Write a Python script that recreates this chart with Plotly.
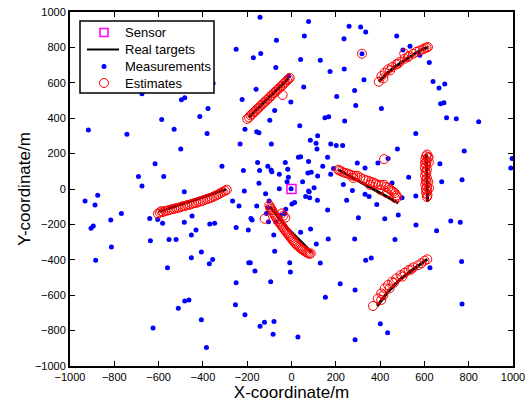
import plotly.graph_objects as go

# ---------------- data ----------------
sensor_x = [0]
sensor_y = [0]

# real target tracks (waypoints), one list per target
track_a_x = [-597, -296]
track_a_y = [-128, -2]
track_b_x = [-193, -13]
track_b_y = [405, 625]
track_c_x = [-97, -16, 90]
track_c_y = [-100, -225, -358]
track_d_x = [211, 482]
track_d_y = [109, -79]
track_e_x = [609, 614]
track_e_y = [196, -72]
track_f_x = [387, 421, 436, 488, 541, 613]
track_f_y = [-661, -608, -580, -514, -462, -397]
track_g_x = [395, 428, 466, 511, 556, 594, 616]
track_g_y = [606, 651, 689, 727, 764, 790, 802]

# measurements (clutter + target detections)
meas_x = [-142, -68, -250, -139, -172, -71, -13, -160, -354, -675, -482, -497, -223, -3, -377, -76, -586, -414,
          -98, -917, -743, -530, -381, -210, -157, -147, -232, -91, -500, -616, -314, -153, -107, -28, -691, -577,
          -217, -144, -92, -89, -55, -17, -14, -675, -147, -20, -55, -213, -484,
          77, 260, 312, 335, 58, 237, 475, 535, 503, 318, 41, 130, 174, 238, 622, 579, 327, 55, 285, 639, 666,
          692, 204, 290, 406, 673, 688, 151, 168, 240, 700, 744, 845, 37, 561, 118, 85, 111, 177, 202, 231, 115,
          478, 31, 41, 163, 780, 996, 77, 297, 390, 436, 670, 141, 332, 74, 89, 190, 177, 990, 118, 529, 770, 678,
          50, 454, 234, 102, 77,
          -875, -932, -887, -768, -816, -905, -895, -884, -813, -640, -604, -582, -637, -553, -521, -560, -484,
          -449, -431, -452, -452, -407, -369, -347, -356, -371, -482, -463, -511, -625, -407, -384, -266, -237,
          -250, -195, -183, -178, -157, -117, -101, -107, -113, -104, -71, -50, -31, -26, 2, -80, -76, -193, -186,
          -165, -94, -8, -5, -250, -253, -210, -142, -122, -79, -83,
          14, 64, 82, 80, 117, 275, 249, 332, 350, 385, 561, 499, 163, 302, 421, 482, 562, 655, 719, 762, 41, 86,
          166, 285, 467, 112, 130, 335, 360, 625, 768, 220, 287, 153, 770, 401, 434, 29, 287, -2]
meas_y = [971, 841, 789, 766, 742, 687, 638, 563, 598, 538, 516, 504, 506, 491, 455, 444, 393, 410,
          389, 333, 310, 337, 314, 337, 324, 318, 254, 254, 226, 143, 128, 150, 128, 150, 71, 71,
          105, 105, 107, 98, 84, 111, 66, 17, 32, 41, 1, -12, -15,
          947, 919, 915, 887, 864, 849, 864, 807, 785, 764, 732, 728, 664, 678, 715, 755, 617, 576, 557, 608, 570,
          593, 523, 472, 455, 482, 487, 403, 408, 384, 403, 397, 380, 357, 314, 301, 276, 258, 254, 246, 246, 226,
          226, 179, 182, 179, 214, 173, 156, 147, 147, 173, 143, 128, 118, 90, 94, 116, 83, 118, 73, 67, 52, 41,
          41, 34, 26, 7, -12,
          -36, -68, -91, -138, -175, -222, -209, -403, -328, -166, -172, -194, -292, -286, -286, -445, -188,
          -153, -232, -260, -388, -356, -198, -194, -398, -422, -633, -627, -674, -785, -738, -896, -68, -96,
          -217, -232, -166, -175, -96, -27, -68, -106, -138, -185, -187, -149, -138, -115, -85, -260, -352, -416, -416,
          -463, -524, -416, -469, -529, -654, -710, -776, -753, -748, -821,
          -76, -43, -49, -15, -64, -8, -64, -30, -43, -87, -40, -49, -119, -162, -168, -147, -204, -236, -181, -188, -245, -226,
          -283, -283, -286, -311, -418, -403, -390, -445, -409, -535, -571, -612, -650, -761, -812, -836, -851, 2]

# filter estimates, one list per target
est_a_x = [-603, -595, -588, -580, -570, -560, -550, -540, -530, -520, -510, -500, -490, -480, -470, -460, -450,
           -440, -430, -420, -410, -400, -390, -380, -370, -360, -350, -340, -330, -320, -310, -300, -292]
est_a_y = [-140, -132, -125, -130, -124, -122, -118, -114, -112, -108, -106, -102, -97, -96, -90, -89, -84,
           -80, -79, -72, -70, -66, -60, -57, -52, -48, -42, -36, -30, -22, -16, -10, -4]
est_b_x = [-200, -192, -185, -178, -170, -163, -155, -148, -140, -132, -125, -118, -110, -102, -95, -88, -80,
           -72, -65, -58, -50, -42, -40, -34, -27, -20, -13, -8]
est_b_y = [396, 404, 416, 422, 434, 440, 452, 458, 470, 478, 488, 494, 505, 512, 524, 530, 542,
           549, 560, 566, 578, 584, 531, 596, 604, 614, 620, 628]
est_c_x = [-100, -96, -92, -88, -84, -79, -74, -69, -64, -59, -54, -49, -44, -39, -34, -29, -24, -19, -14, -9,
           -4, 1, 6, 11, 16, 21, 27, 33, 39, 45, 51, 57, 63, 69, 75, 81, 87, -44, -36, -28, -121]
est_c_y = [-92, -104, -112, -120, -130, -140, -152, -162, -172, -182, -190, -200, -208, -216, -225, -233, -242,
           -250, -258, -266, -274, -282, -290, -297, -305, -312, -319, -326, -333, -339, -344, -349, -354, -359,
           -363, -366, -364, -138, -150, -162, -168]
est_d_x = [211, 216, 225, 234, 245, 256, 268, 279, 279, 288, 297, 310, 324, 335, 347, 354, 358, 369, 380, 392,
           400, 405, 418, 425, 430, 437, 445, 452, 460, 467, 467, 474, 478, 418]
est_d_y = [109, 104, 100, 94, 90, 86, 80, 75, 62, 74, 75, 64, 56, 50, 47, 24, 40, 37, 30, 24,
           -4, 22, 24, 12, -23, 6, -2, -10, -16, -23, -51, -36, -47, 169]
est_e_x = [612, 607, 616, 604, 610, 603, 608, 602, 611, 605, 609, 603, 611, 606, 610, 604, 612, 607, 613, 608,
           614, 611, 619, 620, 618, 621]
est_e_y = [195, 185, 178, 165, 155, 145, 135, 120, 110, 98, 88, 75, 62, 50, 38, 25, 12, 0, -12, -22,
           -35, -45, 180, 150, 40, 5]
est_f_x = [368, 390, 405, 405, 421, 436, 443, 454, 473, 493, 511, 529, 549, 571, 586, 601, 613, 415, 462, 500, 540]
est_f_y = [-661, -618, -590, -627, -561, -542, -561, -524, -505, -486, -473, -458, -443, -431, -420, -405, -397,
           -600, -530, -495, -455]
est_g_x = [394, 406, 421, 436, 454, 473, 488, 511, 526, 549, 564, 579, 594, 609, 616, 509, 318, 415, 445, 480, 530, 600]
est_g_y = [606, 638, 657, 676, 689, 704, 717, 736, 745, 764, 775, 783, 789, 798, 802, 766, 764, 625, 670, 708, 752, 795]

legend_labels = ["Sensor", "Real targets", "Measurements", "Estimates"]

# ---------------- build ----------------
tracks = [(track_a_x, track_a_y), (track_b_x, track_b_y), (track_c_x, track_c_y), (track_d_x, track_d_y),
          (track_e_x, track_e_y), (track_f_x, track_f_y), (track_g_x, track_g_y)]
ests = [(est_a_x, est_a_y), (est_b_x, est_b_y), (est_c_x, est_c_y), (est_d_x, est_d_y),
        (est_e_x, est_e_y), (est_f_x, est_f_y), (est_g_x, est_g_y)]

tx, ty = [], []
for xs, ys in tracks:
    tx += list(xs) + [None]
    ty += list(ys) + [None]
ex, ey = [], []
for xs, ys in ests:
    ex += list(xs)
    ey += list(ys)

FONT = "Liberation Sans, Arial, sans-serif"
MAGENTA, BLUE, RED = "#ff00ff", "#0000ff", "#ff0000"

W, H = 529, 402
ML, MR, MT, MB = 70, 16, 12, 36
PW, PH = W - ML - MR, H - MT - MB


def px(xp):
    return (xp - ML) / PW


def py(yp):
    return (H - MB - yp) / PH


fig = go.Figure()
fig.add_trace(go.Scatter(x=sensor_x, y=sensor_y, mode="markers", name=legend_labels[0],
                         marker=dict(symbol="square-open", size=9, color=MAGENTA, line=dict(width=1.5))))
fig.add_trace(go.Scatter(x=tx, y=ty, mode="lines", name=legend_labels[1],
                         line=dict(color="black", width=3)))
fig.add_trace(go.Scatter(x=meas_x, y=meas_y, mode="markers", name=legend_labels[2],
                         marker=dict(symbol="circle", size=5, color=BLUE), cliponaxis=False))
fig.add_trace(go.Scatter(x=ex, y=ey, mode="markers", name=legend_labels[3],
                         marker=dict(symbol="circle-open", size=9, color=RED, line=dict(width=1))))

axis_common = dict(range=[-1000, 1000], dtick=200, showgrid=False, zeroline=False,
                   showline=True, linecolor="black", linewidth=2, mirror="ticks",
                   ticks="inside", ticklen=5, tickcolor="black", tickwidth=1,
                   tickfont=dict(family=FONT, size=11, color="black"), automargin=False)

fig.update_xaxes(**axis_common, title=dict(text="X-coordinate/m", font=dict(family=FONT, size=17, color="black"),
                                           standoff=2))
fig.update_yaxes(**axis_common, title=dict(text="Y-coordinate/m", font=dict(family=FONT, size=17, color="black"),
                                           standoff=0))

# ---- custom legend box (matches the compact MATLAB legend) ----
box_l, box_r, box_t, box_b = 80, 214, 21, 93
row_y = [32.5, 49.5, 66.5, 83]
sym_x = 104
shapes = [dict(type="rect", xref="paper", yref="paper", x0=px(box_l), x1=px(box_r), y0=py(box_b), y1=py(box_t),
               line=dict(color="black", width=1.5), fillcolor="white", layer="above")]
# sensor square
shapes.append(dict(type="rect", xref="paper", yref="paper", xsizemode="pixel", ysizemode="pixel",
                   xanchor=px(sym_x), yanchor=py(row_y[0]), x0=-4, x1=4, y0=-4, y1=4,
                   line=dict(color=MAGENTA, width=1.5), layer="above"))
# real targets line
shapes.append(dict(type="line", xref="paper", yref="paper", x0=px(87), x1=px(119), y0=py(row_y[1]), y1=py(row_y[1]),
                   line=dict(color="black", width=2), layer="above"))
# measurement dot
shapes.append(dict(type="circle", xref="paper", yref="paper", xsizemode="pixel", ysizemode="pixel",
                   xanchor=px(sym_x), yanchor=py(row_y[2]), x0=-2.5, x1=2.5, y0=-2.5, y1=2.5,
                   line=dict(color=BLUE, width=0), fillcolor=BLUE, layer="above"))
# estimate circle
shapes.append(dict(type="circle", xref="paper", yref="paper", xsizemode="pixel", ysizemode="pixel",
                   xanchor=px(sym_x), yanchor=py(row_y[3]), x0=-4.5, x1=4.5, y0=-4.5, y1=4.5,
                   line=dict(color=RED, width=1), layer="above"))

annotations = [dict(text=lab, xref="paper", yref="paper", x=px(123), y=py(yy), xanchor="left", yanchor="middle",
                    showarrow=False, font=dict(family=FONT, size=13, color="black"))
               for lab, yy in zip(legend_labels, row_y)]

fig.update_layout(
    width=W, height=H,
    margin=dict(l=ML, r=MR, t=MT, b=MB),
    paper_bgcolor="white", plot_bgcolor="white",
    showlegend=False,
    shapes=shapes,
    annotations=annotations,
)

fig.write_html("out.html")
